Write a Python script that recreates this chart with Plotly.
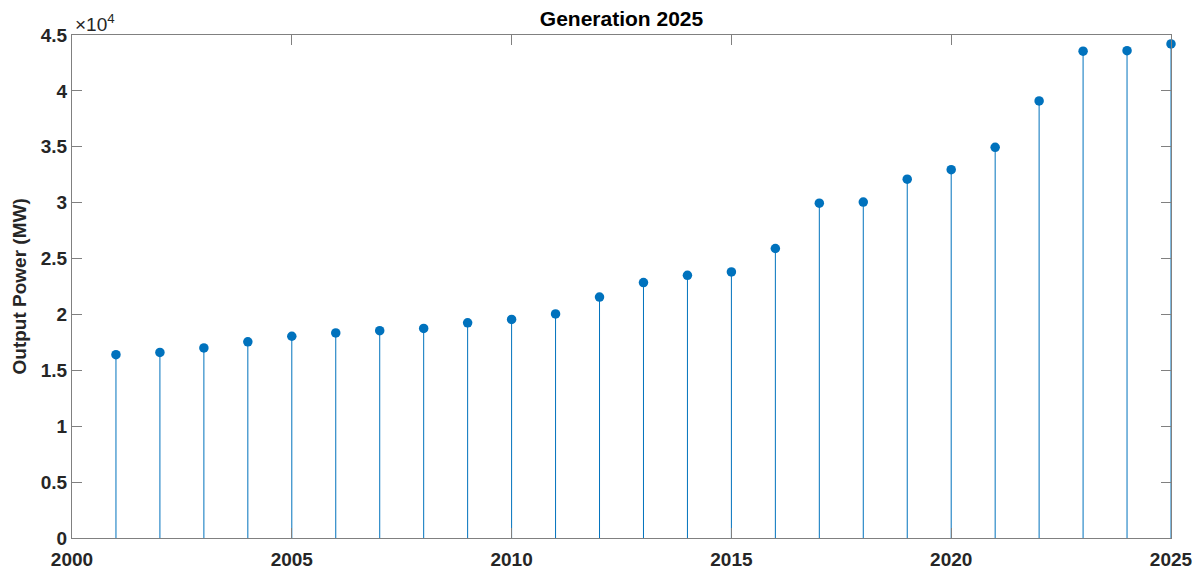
import plotly.graph_objects as go

years = list(range(2001, 2026))
output_mw = [16400, 16600, 17000, 17550, 18050, 18350, 18550, 18750, 19250, 19550,
             20050, 21550, 22850, 23500, 23800, 25900, 29950, 30050, 32100, 32950,
             34950, 39100, 43550, 43600, 44200]

ytick_vals = [0, 5000, 10000, 15000, 20000, 25000, 30000, 35000, 40000, 45000]
ytick_text = ['0', '0.5', '1', '1.5', '2', '2.5', '3', '3.5', '4', '4.5']
xtick_vals = [2000, 2005, 2010, 2015, 2020, 2025]

blue = '#0072BD'
axis_col = '#808080'
text_col = '#262626'
font_fam = 'Liberation Sans, Arial, sans-serif'

# stems: one vertical segment per year, separated by None
stem_x, stem_y = [], []
for yr, v in zip(years, output_mw):
    stem_x += [yr, yr, None]
    stem_y += [0, v, None]

fig = go.Figure()

fig.add_trace(go.Scatter(
    x=stem_x, y=stem_y, mode='lines',
    line=dict(color=blue, width=1),
    hoverinfo='skip', showlegend=False
))

fig.add_trace(go.Scatter(
    x=years, y=output_mw, mode='markers',
    marker=dict(color=blue, size=9.5),
    cliponaxis=False, showlegend=False
))

fig.update_layout(
    width=1203, height=572,
    paper_bgcolor='white', plot_bgcolor='white',
    margin=dict(l=72, r=32, t=35, b=34),
    font=dict(family=font_fam, color=text_col, size=19),
    title=dict(text='<b>Generation 2025</b>', x=0.5, xref='paper', xanchor='center',
               yref='container', y=0.968, yanchor='middle',
               font=dict(size=21, color='black')),
    annotations=[
        dict(text='×10<sup>4</sup>', xref='paper', yref='paper', x=0, y=1,
             xanchor='left', yanchor='bottom', showarrow=False,
             font=dict(size=19, color=text_col), xshift=1, yshift=-2),
        # y-axis title placed by hand to sit closer to the page edge
        dict(text='<b>Output Power (MW)</b>', xref='paper', yref='paper', x=0, y=0.5,
             xanchor='center', yanchor='middle', textangle=-90, showarrow=False,
             font=dict(size=19, color=text_col), xshift=-53),
    ]
)

fig.update_xaxes(
    range=[2000, 2025], tickvals=xtick_vals, automargin=False,
    ticks='inside', ticklen=10, tickcolor=axis_col, ticklabelstandoff=4,
    showline=True, linecolor=axis_col, linewidth=1, mirror='ticks',
    showgrid=False, zeroline=False,
    tickfont=dict(size=19, family=font_fam, weight='bold')
)

fig.update_yaxes(
    range=[0, 45000], tickvals=ytick_vals, ticktext=ytick_text, automargin=False,
    ticks='inside', ticklen=10, tickcolor=axis_col,
    showline=True, linecolor=axis_col, linewidth=1, mirror='ticks',
    showgrid=False, zeroline=False,
    tickfont=dict(size=19, family=font_fam, weight='bold')
)

# drop the default 8px page margin so the figure fills the window exactly
fig.write_html("out.html", config=dict(displayModeBar=False),
               post_script="document.body.style.margin = '0';")
